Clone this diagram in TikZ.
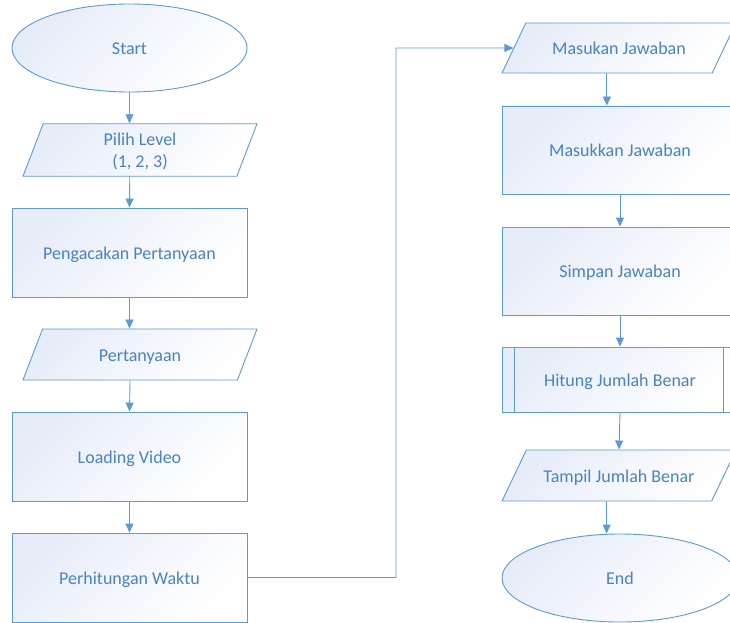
\documentclass[tikz,border=0pt]{standalone}
\usepackage{fontspec}
\setmainfont{Carlito}
\usetikzlibrary{shapes.geometric,arrows.meta}
\definecolor{garis}{RGB}{91,155,213}
\definecolor{tulisan}{RGB}{74,130,194}
\definecolor{isi}{RGB}{230,236,248}

\begin{document}
\begin{tikzpicture}[x=1pt,y=-1pt,
               bentuk/.style={draw=garis, line width=0.9pt, top color=isi, middle color=white, bottom color=white, shading angle=45,
                              text=tulisan, font=\fontsize{18}{22}\selectfont, inner sep=0pt, align=center,
                              text height=14.5pt, text depth=1.5pt},
               terminal/.style={bentuk, ellipse, minimum width=235pt, minimum height=88pt},
               proses/.style={bentuk, rectangle, minimum width=235pt, minimum height=89pt},
               data/.style={bentuk, trapezium, trapezium left angle=69, trapezium right angle=111,
                            trapezium stretches body=true, minimum width=234pt, inner ysep=17.5pt},
               panah/.style={draw=garis, line width=0.9pt, -{Triangle[length=9pt,width=8pt]}}]
               \useasboundingbox (0,0) rectangle (730,623);
               \node[terminal] (start) at (129.5,48) {Start};
               \node[data, text height=37pt, inner ysep=7pt] (pilih) at (140,150) {Pilih Level\\(1, 2, 3)};
               \node[proses] (acak) at (129.5,252.5) {Pengacakan Pertanyaan};
               \node[data] (tanya) at (140,354.5) {Pertanyaan};
               \node[proses] (video) at (129.5,456.5) {Loading Video};
               \node[proses] (waktu) at (129.5,577.5) {Perhitungan Waktu};
               \node[data, trapezium left angle=64.5, trapezium right angle=115.5, inner ysep=17pt] (masuk1) at (619,48) {Masukan Jawaban};
               \node[proses, minimum width=236pt, minimum height=88pt] (masuk2) at (620,150) {Masukkan Jawaban};
               \node[proses, minimum width=236pt, minimum height=88pt] (simpan) at (620,271) {Simpan Jawaban};
               \node[proses, minimum width=236pt, minimum height=65pt] (hitung) at (620,379.5) {Hitung Jumlah Benar};
               \draw[garis, line width=0.9pt] ([xshift=13pt]hitung.north west) -- ([xshift=13pt]hitung.south west);
               \draw[garis, line width=0.9pt] ([xshift=-15pt]hitung.north east) -- ([xshift=-15pt]hitung.south east);
               \node[data, trapezium left angle=64.5, trapezium right angle=115.5] (tampil) at (619,475.5) {Tampil Jumlah Benar};
               \node[terminal, minimum width=236pt] (end) at (620,578) {End};
               \coordinate (belok) at (396,48);
               \draw[panah] (start.south) -- (start.south |- pilih.north);
               \draw[panah] (pilih.bottom side) -- (acak.north);
               \draw[panah] (acak.south) -- (acak.south |- tanya.north);
               \draw[panah] (tanya.bottom side) -- (video.north);
               \draw[panah] (video.south) -- (waktu.north);
               \draw[panah] (waktu.east) -| (belok) -- (masuk1.west);
               \draw[panah] (masuk1.bottom side) -- (masuk1.bottom side |- masuk2.north);
               \draw[panah] (masuk2.south) -- (simpan.north);
               \draw[panah] (simpan.south) -- (hitung.north);
               \draw[panah] (hitung.south) -- (tampil.north);
               \draw[panah] (tampil.bottom side) -- (tampil.bottom side |- end.north);
           \end{tikzpicture}
\end{document}
